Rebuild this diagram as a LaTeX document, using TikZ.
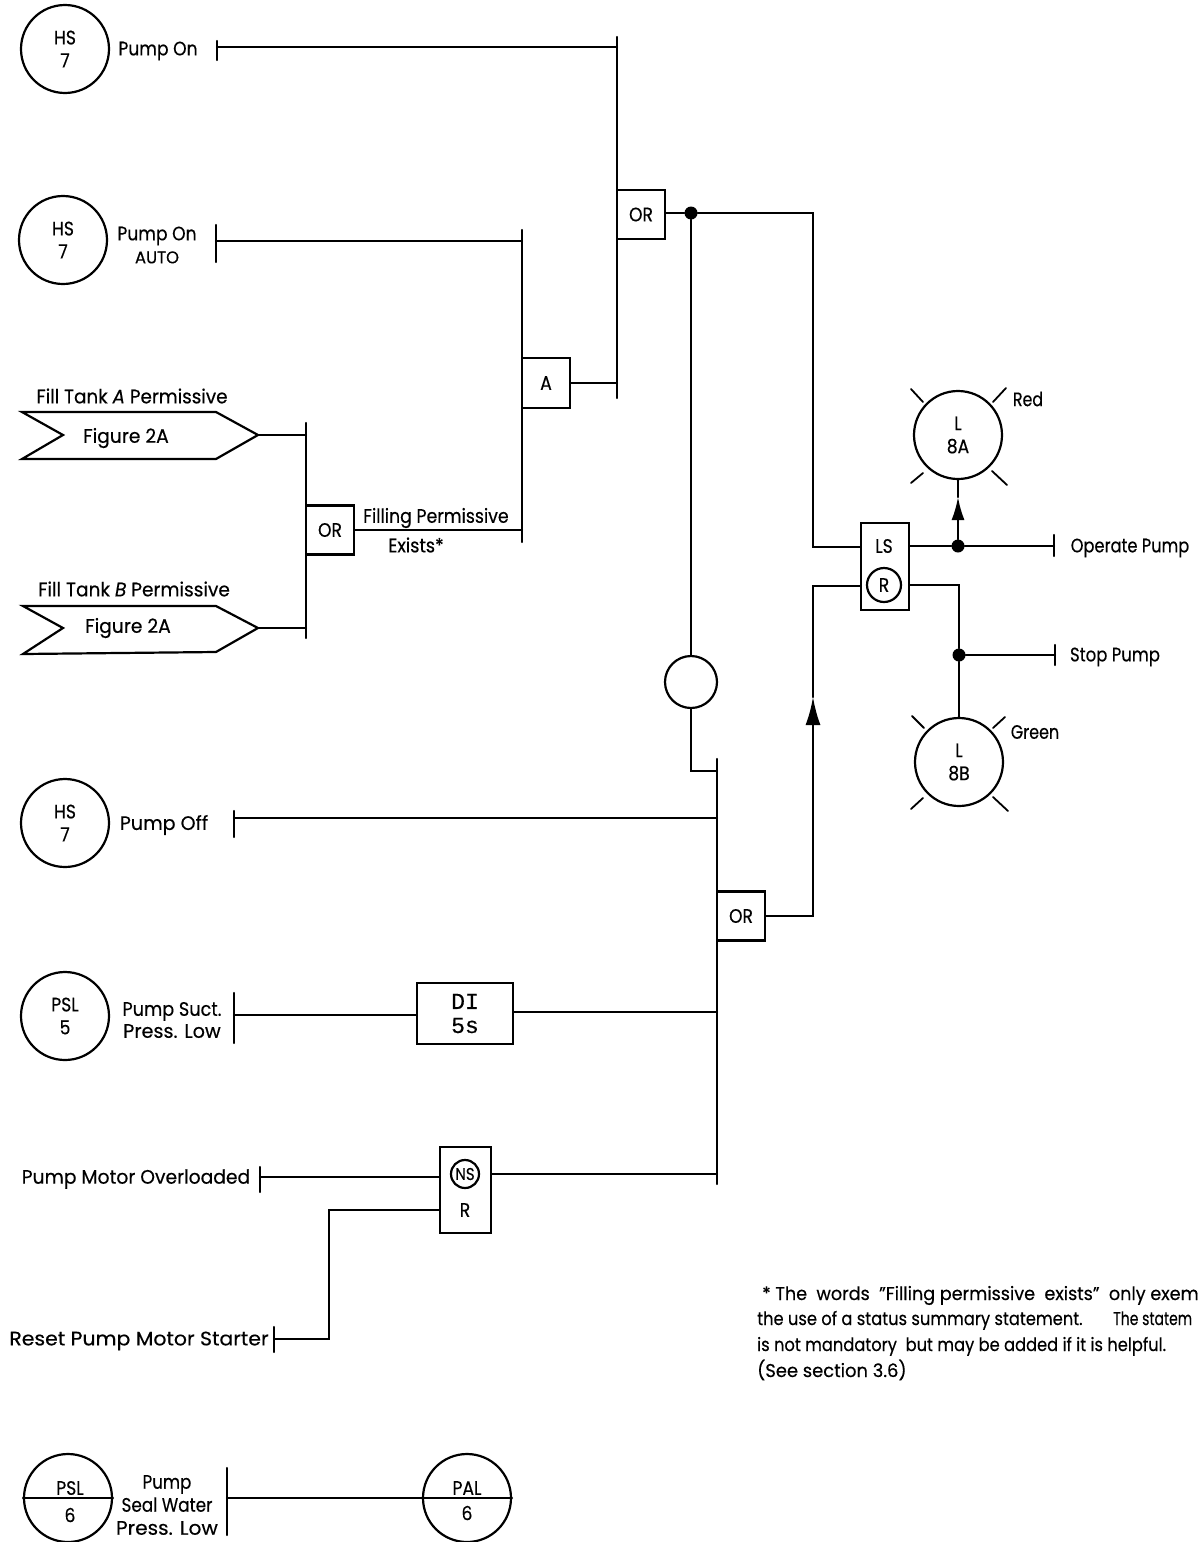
\documentclass[tikz,border=0pt]{standalone}
\usepackage{graphicx}
\usepackage{fontspec}
\setmainfont[FakeStretch=0.88,FakeBold=0.35]{Poppins}
\setmonofont[FakeBold=0.5]{Liberation Mono}
\usetikzlibrary{arrows.meta}
\newcommand{\sx}[2]{\scalebox{#1}[1]{#2}}
\newcommand{\dn}[1]{\raisebox{-2pt}{#1}}
\tikzset{
  x=1pt,y=-1pt,
  wire/.style={line width=2.2pt,line cap=round,line join=miter},
  thin wire/.style={line width=1.8pt,line cap=round},
  inst/.style={circle,draw,line width=2.2pt,minimum size=88pt,inner sep=0pt,align=center,font=\fontsize{19.5}{23}\selectfont},
  lamp/.style={inst},
  box/.style={rectangle,draw,line width=2.2pt,inner sep=0pt,align=center,font=\fontsize{19.5}{24}\selectfont},
  lbl/.style={inner sep=0pt,align=center,yshift=-2pt,font=\fontsize{19.5}{24}\selectfont},
  note/.style={inner sep=0pt,anchor=base west,font=\fontsize{18.5}{22}\selectfont},
  dot/.style={circle,fill=black,inner sep=0pt,minimum size=13pt},
  flow/.style={wire,-{Latex[length=28pt,width=15pt]}},
  small ring/.style={circle,draw,line width=2.2pt,inner sep=0pt},
  tag/.style={wire,line join=miter,fill=white}
}
\begin{document}
\begin{tikzpicture}
\useasboundingbox (0,0) rectangle (1198,1542);
% --- instruments
\node[inst] (hs1) at (65,49) {HS\\7};
\node[inst] (hs2) at (63,240) {HS\\7};
\node[inst] (hs3) at (65,823) {HS\\7};
\node[inst] (psl5) at (65,1016) {PSL\\5};
\node[inst] (psl6) at (68,1498) {};
\node[inst] (pal6) at (467,1498) {};
\node[lbl] (psl6a) at (70,1486) {PSL};
\node[lbl] (psl6b) at (70,1513) {6};
\node[lbl] (pal6a) at (467,1486) {PAL};
\node[lbl] (pal6b) at (467,1511) {6};
\draw[wire] (psl6.west) -- (psl6.east);
\draw[wire] (pal6.west) -- (pal6.east);
% --- input labels
\node[lbl] (t1) at (158,49) {Pump On};
\node[lbl] (t2) at (157,243) {Pump On\\[-1pt]{\fontsize{17}{18}\selectfont\sx{1.1}{AUTO}}};
\node[lbl] (t3) at (164,823) {\sx{1.11}{Pump Off}};
\node[lbl] (t4) at (172,1018) {\sx{1.03}{Pump Suct.}\\[-2pt]\sx{1.12}{Press. Low}};
\node[lbl] (t5) at (136,1177) {\sx{1.09}{Pump Motor Overloaded}};
\node[lbl] (t6) at (139,1339) {\sx{1.19}{Reset Pump Motor Starter}};
\node[lbl,align=center] (t7) at (167,1503) {\sx{0.97}{Pump}\\[-1pt]\sx{0.98}{Seal Water}\\[-1pt]\sx{1.17}{Press. Low}};
% --- tags
\coordinate (tagA) at (258,435);
\coordinate (tagB) at (258,628);
\draw[tag] (22,412) -- (216,412) -- (tagA) -- (216,459) -- (22,459) -- (63,435) -- cycle;
\draw[tag] (23,606) -- (216,606) -- (tagB) -- (216,652) -- (23,654) -- (63,628) -- cycle;
\node[lbl] (fa) at (126,436) {\sx{1.09}{Figure 2A}};
\node[lbl] (fb) at (128,626) {\sx{1.09}{Figure 2A}};
\node[lbl] (la) at (132,394) {\sx{1.07}{Fill Tank {\itshape A} Permissive}};
\node[lbl] (lb) at (134,587) {\sx{1.08}{Fill Tank {\itshape B} Permissive}};
% --- logic boxes
\node[box,minimum width=48pt,minimum height=49pt] (or1) at (641,214.5) {\dn{OR}};
\node[box,minimum width=48pt,minimum height=50pt] (and1) at (546,383) {\dn{A}};
\node[box,minimum width=48pt,minimum height=49pt] (or2) at (330,530) {\dn{OR}};
\node[box,minimum width=48pt,minimum height=49pt] (or3) at (741,916) {\dn{OR}};
\node[box,minimum width=96pt,minimum height=61pt,font=\fontsize{23}{24}\ttfamily] (di) at (465,1013.5) {DI\\5s};
\node[box,minimum width=48pt,minimum height=87pt] (ls) at (885,566.5) {};
\node[lbl] (lstxt) at (884,544) {LS};
\node[small ring,minimum size=34pt,font=\fontsize{19.5}{22}\selectfont] (lsr) at (884,585) {\dn{R}};
\node[box,minimum width=51pt,minimum height=86pt] (ns) at (465.5,1190) {};
\node[small ring,minimum size=28pt,font=\fontsize{17}{18}\selectfont] (nsr) at (465,1174) {\dn{NS}};
\node[lbl] (nstxt) at (465,1208) {R};
\node[small ring,minimum size=52pt] (notc) at (691,682) {};
% --- lamps
\node[lamp] (l8a) at (958,435) {\raisebox{-7pt}{L}\\\raisebox{-7pt}{8A}};
\node[lamp] (l8b) at (959,762) {\raisebox{-6pt}{L}\\\raisebox{-6pt}{8B}};
\draw[thin wire] (911,389) -- (923,402);
\draw[thin wire] (1006,388) -- (993,402);
\draw[thin wire] (911,483) -- (923,473);
\draw[thin wire] (1007,485) -- (992,471);
\draw[thin wire] (912,716) -- (924,728);
\draw[thin wire] (1005,717) -- (993,728);
\draw[thin wire] (911,809) -- (923,798);
\draw[thin wire] (1008,811) -- (993,797);
\node[lbl] (red) at (1028,397) {\sx{0.92}{Red}};
\node[lbl] (green) at (1035,730) {\sx{0.93}{Green}};
% --- bars
\coordinate (b1) at (217,47);
\draw[wire] (217,41) -- (217,60);
\coordinate (b2) at (216,241);
\draw[wire] (216,225) -- (216,262);
\coordinate (b3) at (234,818);
\draw[wire] (234,811) -- (234,837);
\coordinate (b4) at (234,1015);
\draw[wire] (234,993) -- (234,1043);
\coordinate (b5) at (260,1177);
\draw[wire] (260,1167) -- (260,1192);
\coordinate (b6) at (274,1339);
\draw[wire] (274,1327) -- (274,1352);
\coordinate (b7) at (227,1498);
\draw[wire] (227,1468) -- (227,1535);
\coordinate (b8) at (1054,546);
\draw[wire] (1054,535) -- (1054,556);
\coordinate (b9) at (1055,655);
\draw[wire] (1055,645) -- (1055,665);
\draw[wire] (617,37) -- (617,398);
\draw[wire] (522,230) -- (522,542);
\draw[wire] (306,423) -- (306,638);
\draw[wire] (717,759) -- (717,1184);
% --- connectors
\draw[wire] (b1) -- (617,47);
\draw[wire] (b2) -- (522,241);
\draw[wire] (tagA) -- (306,435);
\draw[wire] (tagB) -- (306,628);
\draw[wire] (or2.east) -- (522,530);
\draw[wire] (and1.east) -- (617,383);
\node[dot] (d1) at (691,213) {};
\draw[wire] (or1.east |- d1) -- (d1);
\draw[wire] (d1) -- (813,213) -- (813,547) -- (ls.west |- 0,547);
\draw[wire] (d1) -- (notc.north);
\draw[wire] (notc.south) -- (691,771) -- (717,771);
\draw[wire] (b3) -- (717,818);
\draw[wire] (b4) -- (di.west |- 0,1015);
\draw[wire] (di.east |- 0,1012) -- (717,1012);
\draw[wire] (b5) -- (ns.west |- 0,1177);
\draw[wire] (ns.east |- 0,1174) -- (717,1174);
\draw[wire] (b6) -- (329,1339) -- (329,1210) -- (ns.west |- 0,1210);
\draw[wire] (b7) -- (pal6.west);
\coordinate (ar1) at (813,697);
\draw[flow] (or3.east) -- (813,916) -- (ar1);
\draw[wire] (ar1) -- (813,586) -- (ls.west |- 0,586);
\node[dot] (d2) at (958,546) {};
\node[dot] (d3) at (959,655) {};
\draw[wire] (ls.east |- 0,546) -- (d2);
\draw[wire] (d2) -- (b8);
\coordinate (ar2) at (958,497);
\draw[wire,-{Latex[length=23pt,width=13pt]}] (d2) -- (ar2);
\draw[wire] (ar2) -- (l8a.south);
\draw[wire] (ls.east |- 0,585) -- (959,585) -- (d3);
\draw[wire] (d3) -- (l8b.north);
\draw[wire] (d3) -- (b9);
% --- output labels
\node[lbl] (op) at (1130,546) {\sx{0.945}{Operate Pump}};
\node[lbl] (sp) at (1115,655) {\sx{0.96}{Stop Pump}};
\node[lbl] (fp) at (436,516) {\sx{1.01}{Filling Permissive}};
\node[lbl] (ex) at (416,543) {\sx{1.03}{Exists*}};
% --- note
\node[note] (n1) at (762,1300) {\sx{1.08}{* The\ \ words\ \ "Filling permissive\ \ exists"\ \ only exem}};
\node[note] (n2) at (757,1325) {the use of a status summary statement.};
\node[note] (n2b) at (1113,1325) {\sx{0.86}{The statem}};
\node[note] (n3) at (757,1351) {is not mandatory\ \ but may be added if it is helpful.};
\node[note] (n4) at (757,1377) {\sx{1.1}{(See section 3.6)}};
\end{tikzpicture}
\end{document}
